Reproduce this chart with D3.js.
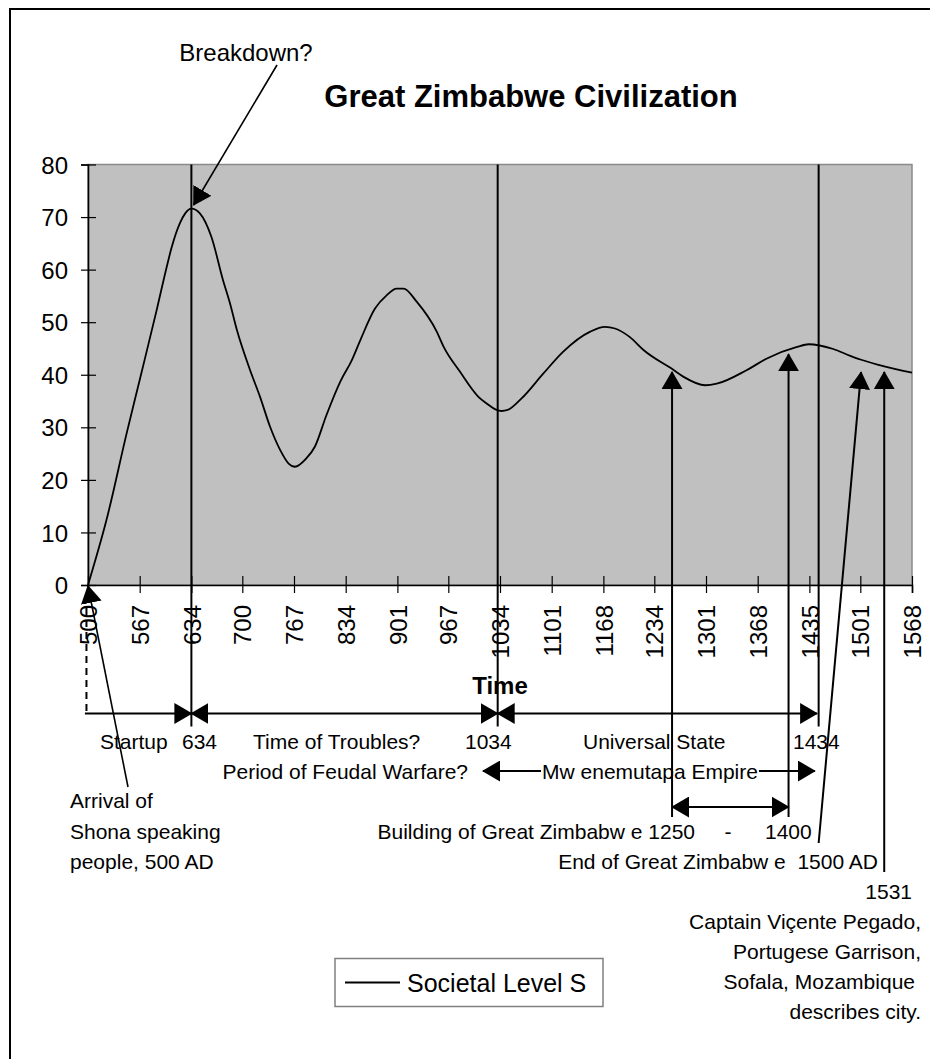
<!DOCTYPE html>
<html>
<head>
<meta charset="utf-8">
<script src="https://cdn.jsdelivr.net/npm/d3@7"></script>
<style>
  html, body { margin: 0; padding: 0; background: #fff; }
  svg { display: block; font-family: "Liberation Sans", Arial, sans-serif; }
</style>
</head>
<body>
<svg id="chart" width="930" height="1059"></svg>
<script>
"use strict";

// /////// DATA

// Societal level S (year, level)
const years = [500, 524, 550, 567, 589, 602, 608, 619, 626, 634, 645, 660, 675, 684, 693,
  710, 723, 736, 749, 760, 768, 783, 794, 809, 827, 842, 853, 872, 887, 900, 909, 926,
  952, 961, 982, 1006, 1017, 1028, 1036, 1044, 1062, 1090, 1116, 1151, 1170, 1183, 1202,
  1220, 1259, 1272, 1300, 1315, 1354, 1380, 1419, 1434, 1466, 1488, 1501, 1527, 1568];
const societalLevel = [0, 12.4, 28.8, 39, 52.3, 60.5, 64, 68.8, 70.7, 71.6, 70.7, 66.2, 58,
  53.6, 48.5, 40.9, 35.8, 30.1, 25.7, 23.1, 22.5, 24.1, 26.3, 32.3, 38.7, 42.8, 46.6, 52.6,
  55.1, 56.4, 56.4, 53.9, 48.2, 45.3, 40.6, 35.8, 34.5, 33.4, 33.1, 33.3, 35.5, 40.2, 44.4,
  48.2, 49.1, 48.8, 47.2, 44.7, 40.9, 39.6, 38.0, 38.3, 40.9, 43.1, 45.3, 45.8, 44.9, 43.6,
  42.9, 41.8, 40.4];

const yTicks = [0, 10, 20, 30, 40, 50, 60, 70, 80];
const xTickLabels = ["500", "567", "634", "700", "767", "834", "901", "967", "1034",
  "1101", "1168", "1234", "1301", "1368", "1435", "1501", "1568"];

// Phase boundaries (vertical lines through the plot)
const phaseYears = [634, 1031, 1447];

// Period arrows under the axis: [fromYear, toYear, arrow at start, arrow at end]
const periodArrows = [
  [496, 634, false, true],
  [634, 1031, true, true],
  [1031, 1445, true, true],
];

// Event arrows pointing up at the curve: [baseYear, tipYear, tipLevel, baseRow]
const eventArrows = [
  [1257, 1257, 40.5, "build"],
  [1408, 1408, 43.9, "build"],
  [1447, 1502, 40.5, "end"],
  [1532, 1532, 40.5, "capt"],
];

// /////// LAYOUT

const plot = { left: 88, right: 912, top: 164.5, bottom: 585 };
const rows = {
  arrow: 713.5,
  dividerEnd: 726.5,
  label: 749,
  empire: 779,
  empireLine: 771,
  buildArrow: 807,
  buildBase: 817,
  build: 839,
  endBase: 843,
  end: 869,
  captBase: 872,
};

const svg = d3.select("#chart");

const x = d3.scaleLinear().domain([500, 1568]).range([plot.left, plot.right]);
const y = d3.scaleLinear().domain([0, 80]).range([plot.bottom, plot.top]);

// Arrowhead
svg.append("defs")
  .append("marker")
  .attr("id", "arrow")
  .attr("viewBox", "0 0 18 21")
  .attr("refX", 17)
  .attr("refY", 10.5)
  .attr("markerWidth", 18)
  .attr("markerHeight", 21)
  .attr("markerUnits", "userSpaceOnUse")
  .attr("orient", "auto-start-reverse")
  .append("path")
  .attr("d", "M0,0L18,10.5L0,21Z")
  .attr("fill", "#000");

// Chart frame (cropped on right and bottom)
svg.append("path")
  .attr("d", "M10,1059V9H930")
  .attr("fill", "none")
  .attr("stroke", "#000")
  .attr("stroke-width", 2);

// Plot area
svg.append("rect")
  .attr("x", plot.left)
  .attr("y", plot.top)
  .attr("width", plot.right - plot.left)
  .attr("height", plot.bottom - plot.top)
  .attr("fill", "#c0c0c0")
  .attr("stroke", "#8a8a8a")
  .attr("stroke-width", 1.5);

// Title
svg.append("text")
  .attr("x", 531)
  .attr("y", 107)
  .attr("text-anchor", "middle")
  .style("font-size", "31px")
  .style("font-weight", "bold")
  .text("Great Zimbabwe Civilization");

// Axes
const yAxis = svg.append("g")
  .attr("transform", `translate(${plot.left},0)`)
  .call(d3.axisLeft(y).tickValues(yTicks).tickSizeOuter(0).tickSize(7).tickPadding(20));
yAxis.selectAll(".tick line").attr("x1", -7).attr("x2", 8);
yAxis.selectAll(".tick text")
  .attr("x", -20)
  .attr("dy", "0.36em")
  .style("font-size", "24px")
  .style("font-family", "Liberation Sans, Arial, sans-serif")
  .attr("fill", "#000");

const xTickValues = xTickLabels.map(Number);
const xAxis = svg.append("g")
  .attr("transform", `translate(0,${plot.bottom})`)
  .call(d3.axisBottom(x).tickValues(xTickValues).tickSizeOuter(0).tickSize(8)
    .tickFormat((d, i) => xTickLabels[i]));
xAxis.selectAll(".tick line").attr("y1", -9).attr("y2", 8);
xAxis.selectAll(".tick text")
  .attr("transform", "translate(0,20) rotate(-90)")
  .attr("x", 0)
  .attr("y", 0)
  .attr("dy", "0.36em")
  .attr("text-anchor", "end")
  .style("font-size", "24px")
  .style("font-family", "Liberation Sans, Arial, sans-serif")
  .attr("fill", "#000");

[yAxis, xAxis].forEach((g) => {
  g.select(".domain").attr("stroke", "#000").attr("stroke-width", 1.6);
  g.selectAll(".tick line").attr("stroke", "#000").attr("stroke-width", 1.2);
});

// Axis title
svg.append("text")
  .attr("x", 500)
  .attr("y", 694)
  .attr("text-anchor", "middle")
  .style("font-size", "24px")
  .style("font-weight", "bold")
  .text("Time");

// Phase dividers
svg.selectAll(".divider")
  .data(phaseYears)
  .join("line")
  .attr("class", "divider")
  .attr("x1", (d) => x(d))
  .attr("x2", (d) => x(d))
  .attr("y1", plot.top)
  .attr("y2", rows.dividerEnd)
  .attr("stroke", "#000")
  .attr("stroke-width", 2);

// Curve
const series = years.map((yr, i) => ({ year: yr, level: societalLevel[i] }));
svg.append("path")
  .datum(series)
  .attr("d", d3.line().x((d) => x(d.year)).y((d) => y(d.level)).curve(d3.curveMonotoneX))
  .attr("fill", "none")
  .attr("stroke", "#000")
  .attr("stroke-width", 1.8);

// Period arrows
svg.selectAll(".period")
  .data(periodArrows)
  .join("line")
  .attr("class", "period")
  .attr("x1", (d) => x(d[0]))
  .attr("x2", (d) => x(d[1]))
  .attr("y1", rows.arrow)
  .attr("y2", rows.arrow)
  .attr("stroke", "#000")
  .attr("stroke-width", 2)
  .attr("marker-start", (d) => (d[2] ? "url(#arrow)" : null))
  .attr("marker-end", (d) => (d[3] ? "url(#arrow)" : null));

// Dashed start marker at 500
svg.append("line")
  .attr("x1", x(498)).attr("x2", x(498))
  .attr("y1", 596).attr("y2", rows.arrow)
  .attr("stroke", "#000")
  .attr("stroke-width", 2)
  .attr("stroke-dasharray", "7,5");

// Event arrows pointing at the curve
const baseY = { build: rows.buildBase, end: rows.endBase, capt: rows.captBase };
svg.selectAll(".event")
  .data(eventArrows)
  .join("line")
  .attr("class", "event")
  .attr("x1", (d) => x(d[0]))
  .attr("y1", (d) => baseY[d[3]])
  .attr("x2", (d) => x(d[1]))
  .attr("y2", (d) => y(d[2]))
  .attr("stroke", "#000")
  .attr("stroke-width", 2)
  .attr("marker-end", "url(#arrow)");

// Building of Great Zimbabwe double arrow
svg.append("line")
  .attr("x1", x(eventArrows[0][0]))
  .attr("x2", x(eventArrows[1][0]))
  .attr("y1", rows.buildArrow)
  .attr("y2", rows.buildArrow)
  .attr("stroke", "#000")
  .attr("stroke-width", 2)
  .attr("marker-start", "url(#arrow)")
  .attr("marker-end", "url(#arrow)");

// Breakdown arrow (to the peak)
svg.append("line")
  .attr("x1", 277).attr("y1", 65)
  .attr("x2", x(637)).attr("y2", y(72.3))
  .attr("stroke", "#000")
  .attr("stroke-width", 1.6)
  .attr("marker-end", "url(#arrow)");

// Arrival arrow (to the origin)
svg.append("line")
  .attr("x1", 128).attr("y1", 787)
  .attr("x2", x(500)).attr("y2", y(0) + 1)
  .attr("stroke", "#000")
  .attr("stroke-width", 1.6)
  .attr("marker-end", "url(#arrow)");

// Annotation texts
const notes = [
  { t: "Breakdown?", x: 246, y: 61, a: "middle", s: 24 },
  { t: "Startup", x: 100, y: rows.label, a: "start" },
  { t: "634", x: 182, y: rows.label, a: "start" },
  { t: "Time of Troubles?", x: 253, y: rows.label, a: "start" },
  { t: "1034", x: 465, y: rows.label, a: "start" },
  { t: "Universal State", x: 583, y: rows.label, a: "start" },
  { t: "1434", x: 793, y: rows.label, a: "start" },
  { t: "Period of Feudal Warfare?", x: 468, y: rows.empire, a: "end" },
  { t: "Arrival of", x: 70, y: 808, a: "start" },
  { t: "Shona speaking", x: 70, y: 839, a: "start" },
  { t: "people, 500 AD", x: 70, y: 869, a: "start" },
  { t: "Building of Great Zimbabw e 1250", x: 695, y: rows.build, a: "end" },
  { t: "-", x: 728, y: rows.build, a: "middle" },
  { t: "1400", x: 765, y: rows.build, a: "start" },
  { t: "End of Great Zimbabw e  1500 AD", x: 878, y: rows.end, a: "end" },
  { t: "1531", x: 912, y: 899, a: "end" },
  { t: "Captain Viçente Pegado,", x: 921, y: 929, a: "end" },
  { t: "Portugese Garrison,", x: 921, y: 959, a: "end" },
  { t: "Sofala, Mozambique", x: 915, y: 989, a: "end" },
  { t: "describes city.", x: 921, y: 1019, a: "end" },
];

svg.selectAll(".note")
  .data(notes)
  .join("text")
  .attr("class", "note")
  .attr("x", (d) => d.x)
  .attr("y", (d) => d.y)
  .attr("text-anchor", (d) => d.a)
  .style("font-size", (d) => `${d.s || 21}px`)
  .style("white-space", "pre")
  .text((d) => d.t);

// Mwenemutapa Empire arrow with its label in the middle
const empireFrom = 1012;
const empireTo = 1442;
const empireText = svg.append("text")
  .attr("x", 650)
  .attr("y", rows.empire)
  .attr("text-anchor", "middle")
  .style("font-size", "21px")
  .text("Mw enemutapa Empire");
const halfW = empireText.node().getComputedTextLength() / 2;

svg.append("line")
  .attr("x1", x(empireFrom)).attr("x2", 650 - halfW - 1)
  .attr("y1", rows.empireLine).attr("y2", rows.empireLine)
  .attr("stroke", "#000").attr("stroke-width", 2)
  .attr("marker-start", "url(#arrow)");
svg.append("line")
  .attr("x1", 650 + halfW + 1).attr("x2", x(empireTo))
  .attr("y1", rows.empireLine).attr("y2", rows.empireLine)
  .attr("stroke", "#000").attr("stroke-width", 2)
  .attr("marker-end", "url(#arrow)");

// Legend
const legend = svg.append("g").attr("transform", "translate(335,958.5)");
legend.append("rect")
  .attr("width", 268)
  .attr("height", 48)
  .attr("fill", "#fff")
  .attr("stroke", "#808080")
  .attr("stroke-width", 1.5);
legend.append("line")
  .attr("x1", 10).attr("x2", 65)
  .attr("y1", 24).attr("y2", 24)
  .attr("stroke", "#000")
  .attr("stroke-width", 1.8);
legend.append("text")
  .attr("x", 72)
  .attr("y", 33)
  .style("font-size", "25px")
  .text("Societal Level S");
</script>
</body>
</html>
